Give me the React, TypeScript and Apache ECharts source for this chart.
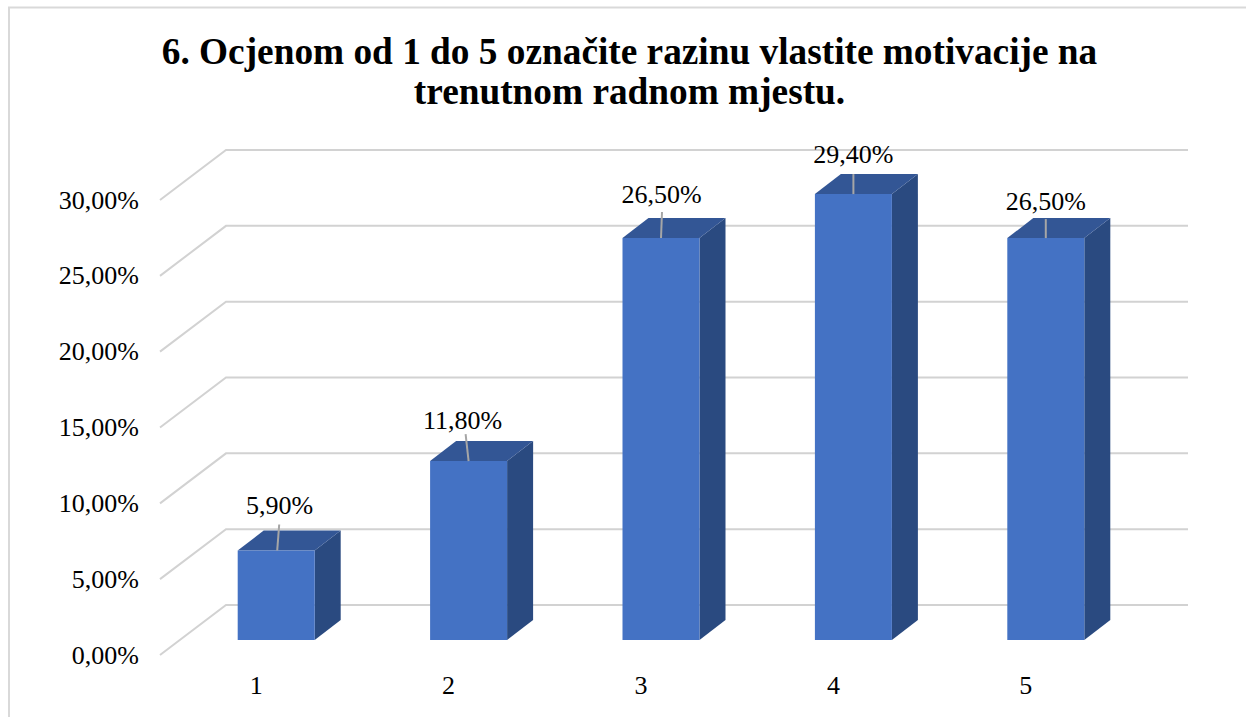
import React, { useEffect, useRef } from "react";
import * as echarts from "echarts";

const titleText = "6. Ocjenom od 1 do 5 označite razinu vlastite motivacije na\ntrenutnom radnom mjestu.";
const categories = ["1", "2", "3", "4", "5"];
const values = [5.9, 11.8, 26.5, 29.4, 26.5];
const valueLabels = ["5,90%", "11,80%", "26,50%", "29,40%", "26,50%"];
const yTicks = [0, 5, 10, 15, 20, 25, 30];
// label centre and leader-line tip, relative to the centre of each bar's top front edge
const labelOffsets = [[3.5, -45], [-6, -41], [0.5, -44], [0, -40], [0, -37]];
const leaderOffsets = [[3, -26], [-3, -27], [1, -26], [0, -20], [0, -19]];

const SERIF = '"Liberation Serif", "Times New Roman", serif';
const DEPTH_X = 66;
const DEPTH_Y = 50;
const BAR_DEPTH_X = 26;
const BAR_DEPTH_Y = 20;
const BAR_WIDTH = 77;
const GRID_COLOR = "#d2d2d2";

export default function App() {
  const ref = useRef<HTMLDivElement>(null);

  useEffect(() => {
    document.body.style.margin = "0";
    const chart = echarts.init(ref.current!, undefined, { renderer: "svg" });
    chart.setOption({
      animation: false,
      backgroundColor: "#ffffff",
      title: {
        text: titleText,
        left: 624.5,
        top: 26,
        textAlign: "center",
        textStyle: {
          fontFamily: SERIF,
          fontWeight: "bold",
          fontSize: 37.3,
          lineHeight: 40,
          color: "#000000",
        },
      },
      graphic: [
        {
          type: "polyline",
          silent: true,
          shape: { points: [[9, 717], [9, 7.5], [1246, 7.5]] },
          style: { stroke: "#d9d9d9", lineWidth: 2, fill: "none" },
        },
      ],
      grid: { left: 160, top: 200, width: 962, height: 455 },
      xAxis: {
        type: "category",
        data: categories,
        axisLine: { show: false },
        axisTick: { show: false },
        axisLabel: { fontFamily: SERIF, fontSize: 26, color: "#000000", margin: 17 },
      },
      yAxis: {
        type: "value",
        min: 0,
        max: 30,
        interval: 5,
        axisLine: { show: false },
        axisTick: { show: false },
        splitLine: { show: false },
        axisLabel: {
          fontFamily: SERIF,
          fontSize: 26,
          color: "#000000",
          margin: 21,
          formatter: (v: number) => v.toFixed(2).replace(".", ",") + "%",
        },
      },
      series: [
        {
          type: "custom",
          silent: true,
          z: 1,
          coordinateSystem: "cartesian2d",
          data: yTicks.map((v) => [0, v]),
          encode: { x: 0, y: 1 },
          renderItem: (params: any, api: any) => {
            const grid = params.coordSys;
            const y = api.coord([0, api.value(1)])[1];
            return {
              type: "polyline",
              shape: {
                points: [
                  [grid.x, y],
                  [grid.x + DEPTH_X, y - DEPTH_Y],
                  [grid.x + grid.width + DEPTH_X, y - DEPTH_Y],
                ],
              },
              style: { stroke: GRID_COLOR, lineWidth: 2, fill: "none" },
            };
          },
        },
        {
          type: "custom",
          silent: true,
          z: 2,
          coordinateSystem: "cartesian2d",
          data: values.map((v, i) => [i, v]),
          encode: { x: 0, y: 1 },
          renderItem: (params: any, api: any) => {
            const i = params.dataIndex;
            const top = api.coord([api.value(0), api.value(1)]);
            const base = api.coord([api.value(0), 0]);
            // bars stand halfway into the floor's depth
            const midX = (DEPTH_X - BAR_DEPTH_X) / 2;
            const midY = (DEPTH_Y - BAR_DEPTH_Y) / 2;
            const cx = top[0] + midX;
            const l = cx - BAR_WIDTH / 2;
            const r = cx + BAR_WIDTH / 2;
            const t = top[1] - midY;
            const b = base[1] - midY;
            const dx = BAR_DEPTH_X;
            const dy = BAR_DEPTH_Y;
            return {
              type: "group",
              children: [
                {
                  type: "polygon",
                  shape: { points: [[r, t], [r + dx, t - dy], [r + dx, b - dy], [r, b]] },
                  style: { fill: "#2a4a80" },
                },
                {
                  type: "polygon",
                  shape: { points: [[l, t], [l + dx, t - dy], [r + dx, t - dy], [r, t]] },
                  style: { fill: "#335695" },
                },
                {
                  type: "rect",
                  shape: { x: l, y: t, width: BAR_WIDTH, height: b - t },
                  style: { fill: "#4472c4" },
                },
                {
                  type: "line",
                  shape: {
                    x1: cx + (i === 0 ? 1 : 0),
                    y1: t,
                    x2: cx + leaderOffsets[i][0],
                    y2: t + leaderOffsets[i][1],
                  },
                  style: { stroke: "#a6a6a6", lineWidth: 2 },
                },
                {
                  type: "text",
                  x: cx + labelOffsets[i][0],
                  y: t + labelOffsets[i][1],
                  style: {
                    text: valueLabels[i],
                    fontFamily: SERIF,
                    fontSize: 26,
                    fill: "#000000",
                    align: "center",
                    verticalAlign: "middle",
                  },
                },
              ],
            };
          },
        },
      ],
    });
    return () => chart.dispose();
  }, []);

  return <div ref={ref} style={{ width: 1246, height: 717 }} />;
}
